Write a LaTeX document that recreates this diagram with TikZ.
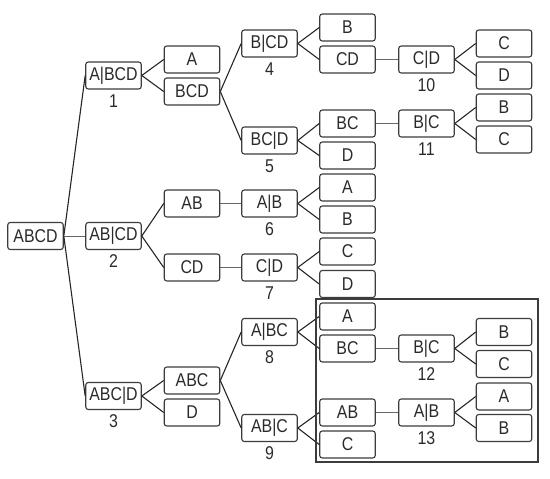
\documentclass[tikz,border=0pt]{standalone}
\usepackage{fontspec}
\setmainfont[FakeStretch=0.86]{Liberation Sans}
\definecolor{boxc}{HTML}{3C3C3C}
\definecolor{txt}{HTML}{2A2A2A}
\begin{document}
\begin{tikzpicture}[x=1pt,y=-1pt,
  bx/.style={draw=boxc,line width=1.1pt,rounded corners=2.5pt,minimum width=55.5pt,minimum height=27pt,inner sep=0pt,text=txt,font=\fontsize{18.5}{18.5}\selectfont},
  num/.style={anchor=base,inner sep=0pt,text=txt,font=\fontsize{18.5}{18.5}\selectfont},
  ln/.style={line width=1.1pt,black!85},
  hl/.style={line width=1pt,black!60}]
\useasboundingbox (0,0) rectangle (550,479);
\def\ca{35.5}\def\cb{113.5}\def\cc{192}\def\cd{269.5}\def\ce{347.5}\def\cf{426.5}\def\cg{504}
\node[bx] (r) at (\ca,236) {ABCD};
\node[bx] (n1) at (\cb,75.5) {A|BCD};
\node[bx] (n2) at (\cb,236) {AB|CD};
\node[bx] (n3) at (\cb,396) {ABC|D};
\node[bx] (a1) at (\cc,59.5) {A};
\node[bx] (a2) at (\cc,91.5) {BCD};
\node[bx] (b1) at (\cc,203.5) {AB};
\node[bx] (b2) at (\cc,267.5) {CD};
\node[bx] (d1) at (\cc,380.5) {ABC};
\node[bx] (d2) at (\cc,412.5) {D};
\node[bx] (n4) at (\cd,43.5) {B|CD};
\node[bx] (n5) at (\cd,140.5) {BC|D};
\node[bx] (n6) at (\cd,203.5) {A|B};
\node[bx] (n7) at (\cd,267.5) {C|D};
\node[bx] (n8) at (\cd,332) {A|BC};
\node[bx] (n9) at (\cd,428) {AB|C};
\node[bx] (e1) at (\ce,27.5) {B};
\node[bx] (e2) at (\ce,59.5) {CD};
\node[bx] (f1) at (\ce,123.5) {BC};
\node[bx] (f2) at (\ce,155.5) {D};
\node[bx] (g1) at (\ce,187.5) {A};
\node[bx] (g2) at (\ce,219.5) {B};
\node[bx] (h1) at (\ce,251.5) {C};
\node[bx] (h2) at (\ce,284) {D};
\node[bx] (i1) at (\ce,316.5) {A};
\node[bx] (i2) at (\ce,348.5) {BC};
\node[bx] (j1) at (\ce,412.5) {AB};
\node[bx] (j2) at (\ce,444.5) {C};
\node[bx] (n10) at (\cf,59.5) {C|D};
\node[bx] (n11) at (\cf,123.5) {B|C};
\node[bx] (n12) at (\cf,348.5) {B|C};
\node[bx] (n13) at (\cf,412.5) {A|B};
\node[bx] (k1) at (\cg,43.5) {C};
\node[bx] (k2) at (\cg,75.5) {D};
\node[bx] (l1) at (\cg,107.5) {B};
\node[bx] (l2) at (\cg,139.5) {C};
\node[bx] (m1) at (\cg,332) {B};
\node[bx] (m2) at (\cg,364) {C};
\node[bx] (o1) at (\cg,396.5) {A};
\node[bx] (o2) at (\cg,428) {B};
% numbers
\foreach \n/\t in {n1/1,n2/2,n3/3,n4/4,n5/5,n6/6,n7/7,n8/8,n9/9,n10/10,n11/11,n12/12,n13/13}
  \node[num] (lab\t) at ([yshift=-17.5pt]\n.south) {\t};
% connectors
\foreach \p/\c in {r/n1,r/n3,n1/a1,n1/a2,n2/b1,n2/b2,n3/d1,n3/d2,a2/n4,a2/n5,d1/n8,d1/n9,
  n4/e1,n4/e2,n5/f1,n5/f2,n6/g1,n6/g2,n7/h1,n7/h2,n8/i1,n8/i2,n9/j1,n9/j2,
  n10/k1,n10/k2,n11/l1,n11/l2,n12/m1,n12/m2,n13/o1,n13/o2}
  \draw[ln] (\p.east) -- (\c.west);
\foreach \p/\c in {r/n2,b1/n6,b2/n7,e2/n10,f1/n11,i2/n12,j1/n13}
  \draw[hl] (\p.east) -- (\c.west);
% frame
\coordinate (fa) at (316,299);
\coordinate (fb) at (538,462);
\draw[boxc,line width=1.1pt] (fa) rectangle (fb);
\end{tikzpicture}
\end{document}
